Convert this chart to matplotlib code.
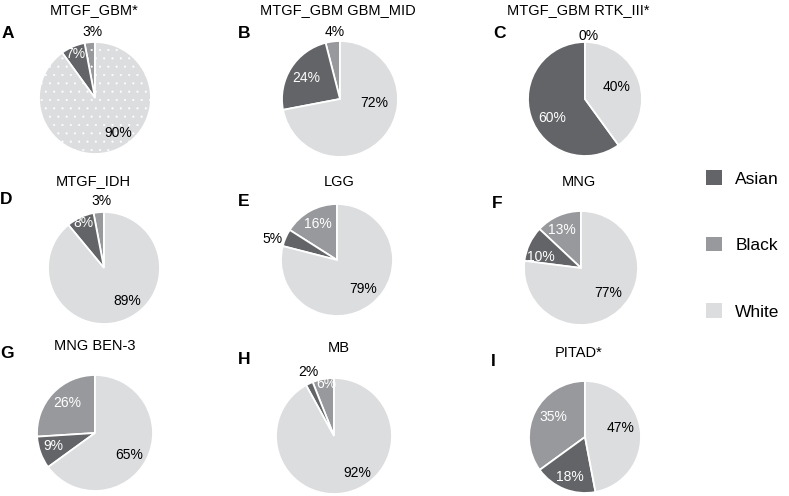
"""
Race distribution per tumour type, drawn as a 3x3 grid of pie charts
with one shared legend on the right.
"""

import matplotlib.pyplot as plt
from matplotlib.patches import Patch

plt.rcParams["font.family"] = ["Liberation Sans", "DejaVu Sans"]
plt.rcParams["hatch.linewidth"] = 0.3

# ---- data ----
titles = ["MTGF_GBM*", "MTGF_GBM GBM_MID", "MTGF_GBM RTK_III*",
          "MTGF_IDH", "LGG", "MNG",
          "MNG BEN-3", "MB", "PITAD*"]
letters = ["A", "B", "C", "D", "E", "F", "G", "H", "I"]
races = ["Asian", "Black", "White"]
asian = [7, 24, 60, 8, 5, 10, 9, 2, 18]
black = [3, 4, 0, 3, 16, 13, 26, 6, 35]
white = [90, 72, 40, 89, 79, 77, 65, 92, 47]

race_colors = {"Asian": "#636467", "Black": "#98999c", "White": "#dcdddf"}

# ---- layout (pixels on a 789x496 canvas) ----
W, H = 789, 496
# pie centre x, centre y, radius
pie_pos = [(95, 98, 56), (340, 99, 58), (585, 99, 57),
           (104, 268, 56), (337, 260, 56), (581, 268, 57),
           (95, 433, 58), (334, 436, 58), (585, 437, 56)]
title_pos = [(94, 10), (338, 10), (578, 10),
             (93, 181), (339, 182), (579, 182),
             (95, 346), (339, 348), (579, 353)]
letter_pos = [(2, 34), (238, 34), (493, 34),
              (0, 200), (238, 201), (492, 203),
              (0, 354), (238, 360), (491, 362)]
# label offsets in pie-radius units, order: Black, Asian, White
label_off = [
    [(-0.05, 1.17), (-0.36, 0.79), (0.41, -0.63)],
    [(-0.09, 1.16), (-0.59, 0.36), (0.59, -0.07)],
    [(0.07, 1.10), (-0.58, -0.33), (0.56, 0.21)],
    [(-0.05, 1.20), (-0.36, 0.80), (0.41, -0.59)],
    [(-0.34, 0.64), (-1.16, 0.38), (0.46, -0.52)],
    [(-0.33, 0.67), (-0.70, 0.19), (0.47, -0.44)],
    [(-0.48, 0.52), (-0.71, -0.22), (0.59, -0.38)],
    [(-0.14, 0.90), (-0.45, 1.10), (0.41, -0.64)],
    [(-0.57, 0.36), (-0.27, -0.71), (0.63, 0.16)],
]

fig = plt.figure(figsize=(W / 100, H / 100), dpi=100)

half = 1.45  # axis half-width in radius units
for i in range(len(titles)):
    cx, cy, r = pie_pos[i]
    size = 2 * half * r
    ax = fig.add_axes([(cx - size / 2) / W, 1 - (cy + size / 2) / H,
                       size / W, size / H])

    values = [black[i], asian[i], white[i]]
    names = ["Black", "Asian", "White"]
    wedges, _ = ax.pie(
        values,
        colors=[race_colors[n] for n in names],
        startangle=90,
        counterclock=True,
        radius=1,
        wedgeprops=dict(edgecolor="white", linewidth=1.3),
    )
    # first panel has a dotted fill pattern
    if i == 0:
        wedges[0].set_hatch("..")
        wedges[2].set_hatch("..")

    for k, n in enumerate(names):
        dx, dy = label_off[i][k]
        outside = (dx ** 2 + dy ** 2) ** 0.5 > 1.0
        color = "black" if (n == "White" or outside) else "white"
        ax.text(dx, dy, f"{values[k]}%", ha="center", va="center",
                fontsize=10, color=color)

    ax.set_xlim(-half, half)
    ax.set_ylim(-half, half)
    ax.set_aspect("equal")
    ax.axis("off")

    tx, ty = title_pos[i]
    fig.text(tx / W, 1 - ty / H, titles[i], ha="center", va="center",
             fontsize=10.5)
    lx, ly = letter_pos[i]
    fig.text(lx / W, 1 - ly / H, letters[i], ha="left", va="center",
             fontsize=12.5, fontweight="bold")

handles = [Patch(facecolor=race_colors[n], edgecolor="none") for n in races]
fig.legend(handles, races, loc="center left",
           bbox_to_anchor=(692 / W, 1 - 245 / H),
           frameon=False, fontsize=12.5, handlelength=0.9, handleheight=0.9,
           labelspacing=2.9, handletextpad=0.8, borderpad=0.3)

fig.savefig("out.png", dpi=100)
plt.close(fig)
